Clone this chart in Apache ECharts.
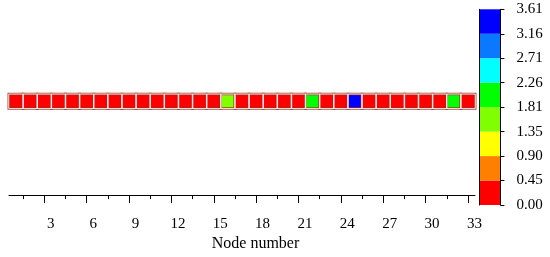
<!DOCTYPE html>
<html>
<head>
<meta charset="utf-8">
<script src="https://cdn.jsdelivr.net/npm/echarts@6/dist/echarts.min.js"></script>
<style>
  html, body { margin: 0; padding: 0; background: #fff; }
  #main { width: 550px; height: 257px; }
</style>
</head>
<body>
<div id="main"></div>
<script>
const myChart = echarts.init(document.getElementById('main'));

// node index along the line
const nodes = ['1','2','3','4','5','6','7','8','9','10','11','12','13','14','15','16','17',
  '18','19','20','21','22','23','24','25','26','27','28','29','30','31','32','33'];
// value per node
const nodeValues = [0.12, 0.15, 0.10, 0.18, 0.14, 0.20, 0.16, 0.22, 0.13, 0.19, 0.17, 0.25, 0.21, 0.24, 0.30,
  1.60, 0.20, 0.15, 0.18, 0.22, 0.26, 2.02, 0.28, 0.31, 3.61, 0.18, 0.14, 0.12, 0.10, 0.08, 0.05,
  1.90, 0.00];
// x axis tick labels
const nodeTickLabels = ['3','6','9','12','15','18','21','24','27','30','33'];
// colour bar bounds and colours
const barTicks = ['0.00','0.45','0.90','1.35','1.81','2.26','2.71','3.16','3.61'];
const barColors = ['#ff0000','#ff8000','#ffff00','#80ff00','#00ff00','#00ffff','#0a78ff','#0000ff'];

const font = 'Liberation Serif';

// half-step slots so ticks can fall between nodes (0.5 ... 33.5)
const slots = [];
for (let k = 1; k <= 67; k++) slots.push(String(k / 2));

const heatData = nodeValues.map((v, i) => [i, 0, v]);

const pieces = barColors.map((c, i) => {
  const p = { gte: parseFloat(barTicks[i]), color: c };
  if (i === barColors.length - 1) p.lte = parseFloat(barTicks[i + 1]);
  else p.lt = parseFloat(barTicks[i + 1]);
  return p;
});

const option = {
  animation: false,
  grid: [
    { left: 9, right: 75, top: 94.3, height: 14 },
    { left: 9, right: 75, top: 9, bottom: 52 },
    { left: 479, top: 9.3, width: 21.4, bottom: 52 }
  ],
  xAxis: [
    { type: 'category', gridIndex: 0, data: nodes, show: false },
    {
      type: 'category', gridIndex: 1, data: slots, boundaryGap: false, position: 'bottom',
      axisLine: { show: true, onZero: false, lineStyle: { color: '#000', width: 1 } },
      axisTick: { show: true, length: 4, lineStyle: { color: '#000' },
        interval: (i, v) => (parseFloat(v) % 1.5 === 0 && parseFloat(v) % 3 !== 0) },
      axisLabel: { show: false },
      splitLine: { show: false }
    },
    {
      type: 'category', gridIndex: 1, data: slots, boundaryGap: false, position: 'bottom',
      axisLine: { show: false, onZero: false },
      axisTick: { show: true, length: 8, lineStyle: { color: '#000' },
        interval: (i, v) => nodeTickLabels.indexOf(v) >= 0 },
      axisLabel: {
        show: true, interval: (i, v) => nodeTickLabels.indexOf(v) >= 0,
        fontFamily: font, fontSize: 15, color: '#000', margin: 21, padding: [0, 0, 0, 13]
      },
      name: 'Node number', nameLocation: 'middle', nameGap: 40,
      nameTextStyle: { fontFamily: font, fontSize: 16, color: '#000', padding: [0, 0, 0, 27] },
      splitLine: { show: false }
    },
    { type: 'value', gridIndex: 2, show: false }
  ],
  yAxis: [
    { type: 'category', gridIndex: 0, data: ['row'], show: false },
    { type: 'value', gridIndex: 1, show: false },
    {
      // colour bar: bands drawn as split areas between the bound ticks
      type: 'category', gridIndex: 2, data: barTicks, boundaryGap: false, position: 'right',
      axisLine: { show: true, onZero: false, lineStyle: { color: '#000', width: 1 } },
      axisTick: { show: true, length: 4, inside: false, interval: 0, lineStyle: { color: '#000' } },
      axisLabel: { show: true, interval: 0, fontFamily: font, fontSize: 15, color: '#000',
        margin: 16, padding: [8, 0, 0, 0] },
      splitLine: { show: false },
      splitArea: { show: true, interval: 0, areaStyle: { color: barColors, opacity: 1 } }
    },
    {
      type: 'category', gridIndex: 2, data: barTicks, boundaryGap: false, position: 'left',
      axisLine: { show: true, onZero: false, lineStyle: { color: '#000', width: 1 } },
      axisTick: { show: false },
      axisLabel: { show: false },
      splitLine: { show: false }
    }
  ],
  visualMap: {
    type: 'piecewise',
    show: false,
    seriesIndex: 0,
    dimension: 2,
    pieces: pieces
  },
  series: [
    {
      type: 'heatmap',
      xAxisIndex: 0,
      yAxisIndex: 0,
      data: heatData,
      itemStyle: { borderColor: 'rgba(150,45,20,0.85)', borderWidth: 2.5 },
      emphasis: { disabled: true }
    },
    {
      // thin light seam between neighbouring cells
      type: 'heatmap',
      xAxisIndex: 0,
      yAxisIndex: 0,
      data: heatData,
      itemStyle: { color: 'rgba(0,0,0,0)', borderColor: '#fde4ec', borderWidth: 1 },
      emphasis: { disabled: true }
    }
  ]
};

myChart.setOption(option);
</script>
</body>
</html>
